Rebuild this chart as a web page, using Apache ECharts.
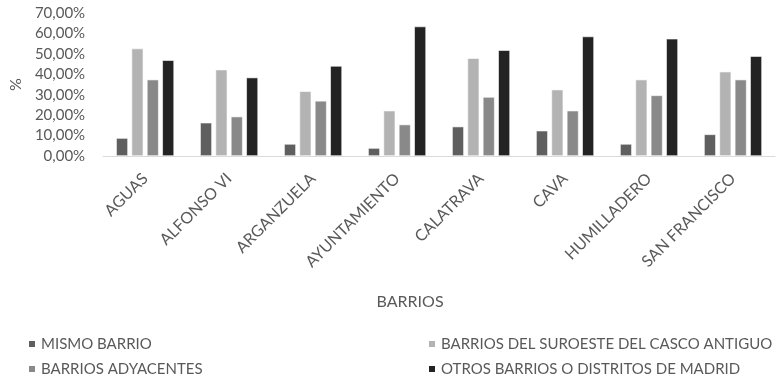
<!DOCTYPE html>
<html><head><meta charset="utf-8">
<script src="https://cdn.jsdelivr.net/npm/echarts@6/dist/echarts.min.js"></script>
<style>html,body{margin:0;padding:0;background:#fff}#c{width:777px;height:379px}</style>
</head><body><div id="c"></div>
<script>
const categories = ['AGUAS','ALFONSO VI','ARGANZUELA','AYUNTAMIENTO','CALATRAVA','CAVA','HUMILLADERO','SAN FRANCISCO'];
const seriesNames = ['MISMO BARRIO','BARRIOS DEL SUROESTE DEL CASCO ANTIGUO','BARRIOS ADYACENTES','OTROS BARRIOS O DISTRITOS DE MADRID'];
const mismoBarrio = [8.8, 16.3, 5.9, 3.9, 14.4, 12.4, 5.9, 10.6];
const suroeste = [52.6, 42.3, 31.7, 22.2, 47.9, 32.5, 37.4, 41.3];
const adyacentes = [37.4, 19.3, 27.0, 15.4, 28.9, 22.2, 29.7, 37.4];
const otros = [46.9, 38.4, 44.1, 63.4, 51.8, 58.5, 57.4, 48.9];
const yTicks = [0, 10, 20, 30, 40, 50, 60, 70];
const colors = ['#5f5f5f', '#b3b3b3', '#898989', '#232323'];
const font = 'Lato, "Open Sans", sans-serif';
const values = [mismoBarrio, suroeste, adyacentes, otros];
const chart = echarts.init(document.getElementById('c'), null, {renderer: 'canvas'});
const legendText = {fontSize: 15, color: '#595959', fontFamily: font, lineHeight: 16};
chart.setOption({
  animation: false,
  color: colors,
  textStyle: {fontFamily: font},
  grid: {left: 100, right: 2, top: 13, bottom: 223, containLabel: false},
  legend: [
    {left: 27, top: 336, orient: 'vertical', padding: 0, itemWidth: 8, itemHeight: 8, itemGap: 9,
     icon: 'rect', data: [seriesNames[0], seriesNames[2]], textStyle: legendText},
    {left: 427, top: 336, orient: 'vertical', padding: 0, itemWidth: 8, itemHeight: 8, itemGap: 9,
     icon: 'rect', data: [seriesNames[1], seriesNames[3]], textStyle: legendText}
  ],
  xAxis: {
    type: 'category', data: categories,
    name: 'BARRIOS', nameLocation: 'middle', nameGap: 138,
    nameTextStyle: {fontSize: 16, color: '#595959', fontFamily: font, padding: [0, 58, 0, 0]},
    axisLine: {lineStyle: {color: '#d9d9d9', width: 1}},
    axisTick: {show: false},
    axisLabel: {rotate: 45, interval: 0, margin: 20, fontSize: 16, color: '#595959', fontFamily: font}
  },
  yAxis: {
    type: 'value', min: yTicks[0], max: yTicks[yTicks.length-1], interval: 10,
    name: '%', nameLocation: 'middle', nameGap: 78, nameRotate: 90,
    nameTextStyle: {fontSize: 16, color: '#595959', fontFamily: font},
    axisLine: {show: false}, axisTick: {show: false}, splitLine: {show: false},
    axisLabel: {margin: 18, fontSize: 15, color: '#595959', fontFamily: font,
      formatter: v => v.toFixed(2).replace('.', ',') + '%'}
  },
  series: seriesNames.map((n, i) => ({
    name: n, type: 'bar', data: values[i],
    barGap: '30%', barCategoryGap: '31%',
    itemStyle: {color: colors[i], borderColor: '#ffffff', borderWidth: 0.6}
  }))
});
</script></body></html>
